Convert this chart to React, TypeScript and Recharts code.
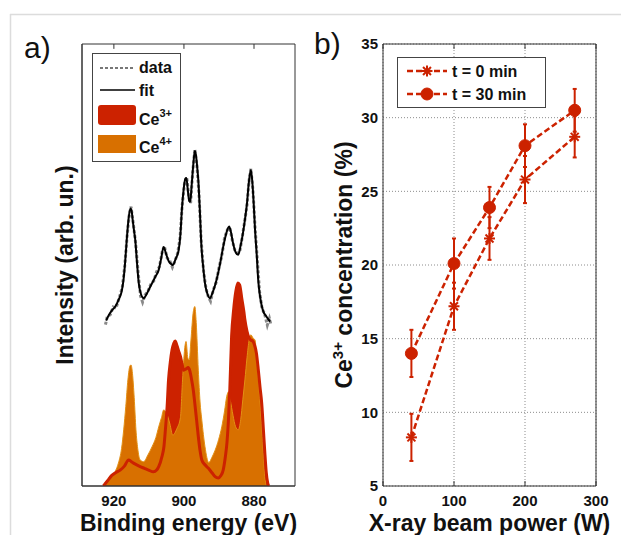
import React from "react"
import { ComposedChart, Area, Line, XAxis, YAxis, CartesianGrid, ErrorBar, Legend, Label, ReferenceArea, ReferenceLine } from "recharts"

const FONT = "'Liberation Sans', Arial, Helvetica, sans-serif"
const RED = "#CC2200"
const ORANGE = "#D87000"
const INK = "#111"
const FRAME = "#333"

// panel a: Ce 3d spectrum, [binding energy (eV), intensity (arb. un.)]
const fitPts = [
  [922.2, 37.4], [921.5, 38.6], [920.5, 39.8], [919.6, 40.6], [918.6, 42.2], [917.7, 44.3], [917.2, 47],
  [916.8, 50.5], [916.3, 56], [915.8, 60.5], [915.3, 62.8], [915.0, 62.5], [914.6, 60], [914.2, 57.5],
  [913.9, 55.7], [913.4, 50.5], [912.9, 45.9], [912.3, 43.5], [911.5, 42.5], [910.6, 43.5], [909.8, 44.8],
  [909.1, 45.9], [908.2, 47.3], [907.2, 48.9], [906.5, 51.5], [905.8, 54.1], [905.1, 52.5], [904.3, 50.8],
  [903.6, 50.2], [903.2, 50], [902.3, 51.5], [901.5, 53.4], [901.0, 57], [900.6, 62.4], [900.1, 67],
  [899.6, 69.5], [899.3, 69.7], [898.9, 67], [898.5, 64.5], [898.2, 64.3], [897.8, 68], [897.3, 73],
  [896.9, 75.8], [896.6, 75], [896.2, 72], [895.9, 69.2], [895.5, 63], [895.0, 54.1], [894.5, 49.5],
  [894.0, 45.9], [893.3, 43.5], [892.6, 42.5], [891.8, 43.8], [890.7, 46.6], [889.8, 49.8], [888.8, 54.1],
  [887.9, 57.2], [887.1, 58.7], [886.6, 57.5], [886.0, 55], [885.3, 53], [884.5, 52.3], [883.8, 54.5],
  [883.2, 57], [882.6, 60.2], [882.0, 64], [881.5, 68.5], [880.9, 71.5], [880.5, 69], [880.1, 64],
  [879.7, 57.9], [879.2, 52], [878.8, 46.6], [878.3, 43], [877.8, 40.8], [877.3, 39.4], [876.6, 38.5],
  [876.0, 37.8], [875.4, 37.2],
]

const dataPts = [
  [922.4, 36.5], [921.9, 38.3], [921.0, 38.8], [920.2, 40.5], [919.4, 40.2], [918.4, 42.8], [917.6, 44.9],
  [916.9, 49.8], [916.2, 56.8], [915.6, 61.5], [915.1, 63.2], [914.5, 59.6], [913.8, 55.0], [913.1, 48.5],
  [912.4, 43.0], [911.8, 41.6], [911.1, 43.2], [910.3, 44.0], [909.4, 45.8], [908.6, 46.4], [907.8, 48.5],
  [907.0, 49.6], [906.2, 53.0], [905.6, 54.3], [904.8, 51.6], [904.0, 50.9], [903.3, 49.5], [902.5, 51.0],
  [901.8, 52.7], [901.1, 56.2], [900.5, 63.5], [899.8, 68.7], [899.2, 69.9], [898.6, 65.4], [898.1, 64.0],
  [897.5, 71.0], [896.9, 76.2], [896.3, 72.6], [895.7, 66.0], [895.1, 55.7], [894.4, 48.6], [893.7, 44.6],
  [893.0, 42.7], [892.4, 41.8], [891.6, 44.4], [890.8, 46.1], [890.0, 49.4], [889.2, 52.0], [888.4, 56.2],
  [887.6, 58.0], [886.9, 58.4], [886.2, 55.6], [885.5, 53.4], [884.8, 52.7], [884.1, 52.9], [883.4, 56.1],
  [882.7, 59.7], [882.0, 63.5], [881.4, 69.2], [880.9, 71.8], [880.3, 66.9], [879.7, 58.5], [879.0, 50.5],
  [878.4, 43.9], [877.7, 40.1], [877.0, 39.0], [876.2, 36.4], [875.6, 37.9], [875.2, 36.6],
]

const ce3Pts = [
  [923, 0], [922.5, 0.5], [921.5, 1.5], [920.6, 2.4], [919.5, 3], [918.2, 3.6], [917, 4.5], [915.8, 5.9],
  [915, 5.5], [914, 5], [912.5, 4.4], [911.3, 4], [910.1, 3.6], [908.7, 3.2], [907.8, 3.6], [907.2, 4.4],
  [906.3, 6.6], [905.7, 9], [905.3, 12.7], [904.8, 18], [904.4, 24], [903.9, 28], [903.4, 30.8], [902.9, 32.3],
  [902.5, 32.8], [902, 31.8], [901.5, 30.5], [901, 29.3], [900.5, 27.5], [900.1, 26.2], [899.4, 26.5],
  [898.8, 26.8], [898.3, 26], [897.8, 24], [897.3, 21.5], [896.9, 18.7], [896.4, 15], [895.9, 11.2],
  [895.4, 8], [894.9, 5.9], [894, 4.8], [893, 4], [892, 3], [891.1, 2.1], [890.2, 1.8], [889.5, 2.3],
  [888.8, 3.6], [888.2, 6.5], [887.7, 10], [887.3, 14.9], [886.9, 22], [886.4, 33.8], [885.8, 40],
  [885.2, 44], [884.6, 45.9], [884.1, 45.5], [883.5, 42.5], [882.9, 39.5], [882.6, 37.6], [882, 35],
  [881.4, 33.5], [880.9, 33], [880.4, 32.8], [879.9, 32], [879.3, 30], [878.8, 26.5], [878.3, 22.5],
  [877.8, 18.7], [877.3, 12.5], [876.9, 7.4], [876.5, 3], [876.1, 0.7], [875.8, 0],
]

const ce4Pts = [
  [923, 0], [922.5, 0.5], [921.5, 1.5], [920.6, 2.1], [919.5, 3.5], [918.7, 5.2], [917.8, 8.5], [917.2, 12.7],
  [916.6, 18], [916.0, 24], [915.4, 27.2], [915.1, 27.4], [914.7, 25.5], [914.2, 20], [913.7, 12.7],
  [913.2, 8.5], [912.5, 5.9], [911.5, 5.5], [910.3, 7], [909.1, 8.9], [908.0, 11], [907.2, 13.4],
  [906.4, 15.5], [905.8, 17.2], [905.0, 16.5], [904.0, 14], [903.2, 11.5], [902.0, 13], [901.0, 15.5],
  [900.4, 24], [899.8, 31], [899.4, 32.7], [898.9, 29], [898.5, 28.5], [898.0, 33], [897.4, 39],
  [896.9, 40.6], [896.5, 37], [895.9, 26.2], [895.4, 19], [894.9, 14.9], [894.0, 8.9], [892.9, 5.3],
  [892.0, 6.5], [891.1, 8.1], [890.1, 10.5], [889.2, 13.4], [888.4, 17], [887.8, 20.2], [887.3, 21.3],
  [886.8, 19.5], [886.0, 16], [885.3, 13.5], [884.5, 12.7], [883.8, 15], [883.2, 19.5], [882.6, 24],
  [882.0, 29], [881.4, 33], [880.9, 34.2], [880.3, 33.5], [879.7, 33], [879.2, 28.5], [878.6, 22.5],
  [877.6, 11.2], [876.9, 2.1], [876.5, 0],
]

const energyDomain = [868.3, 929.1]
const intensityDomain = [0, 100]
const energyTicks = [920, 900, 880]

// panel b: Ce3+ fraction vs X-ray power
const powerW = [40, 100, 150, 200, 270]
const ce3At0 = [8.3, 17.2, 21.8, 25.8, 28.7]
const err0 = [1.6, 1.6, 1.45, 1.6, 1.4]
const ce3At30 = [14.0, 20.1, 23.9, 28.1, 30.5]
const err30 = [1.6, 1.7, 1.4, 1.45, 1.45]
const powerTicks = [0, 100, 200, 300]
const concTicks = [5, 10, 15, 20, 25, 30, 35]

const toRows = (pts: number[][]) => pts.map(([e, v]) => ({ e, v }))
const fitRows = toRows(fitPts)
const dataRows = toRows(dataPts)
const ce3Rows = toRows(ce3Pts)
const ce4Rows = toRows(ce4Pts)

const powerRows = powerW.map((p, i) => ({ p, t0: ce3At0[i], t0e: err0[i], t30: ce3At30[i], t30e: err30[i] }))

const tickFont = { fill: INK, fontSize: 15, fontWeight: 700, fontFamily: FONT }
const titleFont = { fill: INK, fontSize: 23, fontWeight: 700, fontFamily: FONT }
const blank = () => <g />

const StarDot = (props: any) => {
  const { cx, cy, index } = props
  if (cx == null || cy == null) return <g key={`s${index}`} />
  const r = 5.5
  const d = r * 0.72
  return (
    <g key={`s${index}`} stroke={RED} strokeWidth={2}>
      <line x1={cx - r} y1={cy} x2={cx + r} y2={cy} />
      <line x1={cx} y1={cy - r} x2={cx} y2={cy + r} />
      <line x1={cx - d} y1={cy - d} x2={cx + d} y2={cy + d} />
      <line x1={cx - d} y1={cy + d} x2={cx + d} y2={cy - d} />
    </g>
  )
}

const CircleDot = (props: any) => {
  const { cx, cy, index } = props
  if (cx == null || cy == null) return <g key={`c${index}`} />
  return <circle key={`c${index}`} cx={cx} cy={cy} r={6} fill={RED} stroke={RED} strokeWidth={1} />
}

const xTitle = (text: string) => (props: any) => {
  const vb = props.viewBox || {}
  return (
    <text x={vb.x + vb.width / 2} y={vb.y + 45} textAnchor="middle" style={titleFont}>
      {text}
    </text>
  )
}

const intensityTitle = (props: any) => {
  const vb = props.viewBox || {}
  const x = vb.x - 9
  const y = vb.y + vb.height / 2
  return (
    <text x={x} y={y} transform={`rotate(-90, ${x}, ${y})`} textAnchor="middle" style={titleFont}>
      Intensity (arb. un.)
    </text>
  )
}

const concTitle = (props: any) => {
  const vb = props.viewBox || {}
  const x = vb.x + vb.width - 31
  const y = vb.y + vb.height / 2
  return (
    <text x={x} y={y} transform={`rotate(-90, ${x}, ${y})`} textAnchor="middle" style={titleFont}>
      Ce
      <tspan dy={-9} fontSize={15}>3+</tspan>
      <tspan dy={9}> concentration (%)</tspan>
    </text>
  )
}

const keyText = { fontFamily: FONT, fontSize: 16, fontWeight: 700, fill: INK }
const keyBox = { boxSizing: "border-box" as const, border: "1px solid #444", background: "#fff" }

const SpectrumKey = () => (
  <div style={{ ...keyBox, width: 89, height: 109 }}>
    <svg width={87} height={107} style={{ display: "block" }}>
      <line x1={7} y1={14} x2={42} y2={14} stroke="#777" strokeWidth={2} strokeDasharray="3 2" />
      <text x={46} y={19} style={keyText}>data</text>
      <line x1={7} y1={36} x2={42} y2={36} stroke="#000" strokeWidth={1.5} />
      <text x={46} y={42} style={keyText}>fit</text>
      <rect x={5} y={51} width={38} height={20} rx={3} fill={RED} />
      <text x={46} y={71} style={keyText}>
        Ce<tspan dy={-8} fontSize={11}>3+</tspan>
      </text>
      <rect x={5} y={81} width={38} height={18} fill={ORANGE} />
      <text x={46} y={99} style={keyText}>
        Ce<tspan dy={-8} fontSize={11}>4+</tspan>
      </text>
    </svg>
  </div>
)

const PowerKey = () => (
  <div style={{ ...keyBox, width: 149, height: 51 }}>
    <svg width={147} height={49} style={{ display: "block" }}>
      <line x1={9} y1={13} x2={49} y2={13} stroke={RED} strokeWidth={2.5} strokeDasharray="6 3" />
      <StarDot cx={29} cy={13} index={0} />
      <text x={54} y={19} style={keyText}>t = 0 min</text>
      <line x1={9} y1={36} x2={49} y2={36} stroke={RED} strokeWidth={2.5} strokeDasharray="6 3" />
      <CircleDot cx={29} cy={36} index={0} />
      <text x={54} y={42} style={keyText}>t = 30 min</text>
    </svg>
  </div>
)

function SpectrumPanel() {
  return (
    <ComposedChart width={310} height={535} data={fitRows} margin={{ top: 44, right: 15, bottom: 19, left: 82 }}>
      <XAxis
        dataKey="e"
        type="number"
        domain={energyDomain}
        allowDataOverflow
        reversed
        ticks={energyTicks}
        height={30}
        tickLine={false}
        tickSize={0}
        tickMargin={9}
        axisLine={{ stroke: FRAME }}
        tick={tickFont}
      >
        <Label content={xTitle("Binding energy (eV)")} />
      </XAxis>
      <YAxis mirror type="number" domain={intensityDomain} allowDataOverflow tick={false} tickLine={false} axisLine={{ stroke: FRAME }}>
        <Label content={intensityTitle} />
      </YAxis>
      <Area data={ce3Rows} dataKey="v" type="monotone" fill={RED} fillOpacity={1} stroke="none" isAnimationActive={false} />
      <Area data={ce4Rows} dataKey="v" type="monotone" fill={ORANGE} fillOpacity={1} stroke="#E39015" strokeWidth={1} isAnimationActive={false} />
      <Line data={ce3Rows} dataKey="v" type="monotone" stroke={RED} strokeWidth={3} dot={false} isAnimationActive={false} />
      <Line data={dataRows} dataKey="v" type="linear" stroke="#8a8a8a" strokeWidth={3} strokeDasharray="3 2" dot={false} isAnimationActive={false} />
      <Line dataKey="v" type="monotone" stroke="#000" strokeWidth={2} dot={false} isAnimationActive={false} />
      <ReferenceArea
        x1={energyDomain[1]}
        x2={energyDomain[0]}
        y1={intensityDomain[0]}
        y2={intensityDomain[1]}
        fill="none"
        fillOpacity={0}
        stroke={FRAME}
        strokeWidth={1}
        ifOverflow="visible"
      />
      {energyTicks.map((t) => (
        <ReferenceLine
          key={t}
          segment={[{ x: t, y: 100 }, { x: t, y: 98.9 }]}
          stroke={FRAME}
          strokeWidth={1}
          ifOverflow="visible"
        />
      ))}
      <Legend
        layout="horizontal"
        verticalAlign="middle"
        align="center"
        content={() => <SpectrumKey />}
        wrapperStyle={{ left: 92, top: 53, width: 89, height: 109 }}
      />
    </ComposedChart>
  )
}

function PowerPanel() {
  return (
    <ComposedChart width={311} height={535} data={powerRows} margin={{ top: 44, right: 25, bottom: 19, left: 33 }}>
      <CartesianGrid stroke="#8c8c8c" strokeDasharray="1 2" />
      <XAxis
        dataKey="p"
        type="number"
        domain={[0, 300]}
        ticks={powerTicks}
        height={30}
        tickLine={false}
        tickSize={0}
        tickMargin={9}
        axisLine={{ stroke: FRAME }}
        tick={tickFont}
      >
        <Label content={xTitle("X-ray beam power (W)")} />
      </XAxis>
      <XAxis xAxisId="in" mirror dataKey="p" type="number" domain={[0, 300]} ticks={powerTicks} tickSize={5} tickLine={{ stroke: FRAME }} axisLine={false} tick={blank} />
      <XAxis xAxisId="top" orientation="top" mirror dataKey="p" type="number" domain={[0, 300]} ticks={powerTicks} tickSize={5} tickLine={{ stroke: FRAME }} axisLine={{ stroke: FRAME }} tick={blank} />
      <YAxis
        type="number"
        domain={[5, 35]}
        ticks={concTicks}
        width={40}
        tickLine={false}
        tickSize={0}
        tickMargin={5}
        axisLine={{ stroke: FRAME }}
        tick={tickFont}
      >
        <Label content={concTitle} />
      </YAxis>
      <YAxis yAxisId="in" mirror type="number" domain={[5, 35]} ticks={concTicks} tickSize={5} tickLine={{ stroke: FRAME }} axisLine={false} tick={blank} />
      <YAxis yAxisId="r" orientation="right" mirror type="number" domain={[5, 35]} ticks={concTicks} tickSize={5} tickLine={{ stroke: FRAME }} axisLine={{ stroke: FRAME }} tick={blank} />
      <Line dataKey="t0" type="linear" stroke={RED} strokeWidth={2.5} strokeDasharray="6 3" dot={StarDot} isAnimationActive={false}>
        <ErrorBar dataKey="t0e" direction="y" width={2} stroke={RED} strokeWidth={2} />
      </Line>
      <Line dataKey="t30" type="linear" stroke={RED} strokeWidth={2.5} strokeDasharray="6 3" dot={CircleDot} isAnimationActive={false}>
        <ErrorBar dataKey="t30e" direction="y" width={2} stroke={RED} strokeWidth={2} />
      </Line>
      <Legend
        layout="horizontal"
        verticalAlign="middle"
        align="center"
        content={() => <PowerKey />}
        wrapperStyle={{ left: 87, top: 57, width: 149, height: 51 }}
      />
    </ComposedChart>
  )
}

export default function App() {
  return (
    <div style={{ position: "absolute", left: 0, top: 0, width: 621, height: 535, background: "#fff", overflow: "hidden", fontFamily: FONT }}>
      <svg width={621} height={535} style={{ position: "absolute", left: 0, top: 0 }}>
        <line x1={10} y1={14.5} x2={621} y2={14.5} stroke="#dcdcdc" strokeWidth={1.5} />
        <line x1={10.5} y1={14} x2={10.5} y2={535} stroke="#dcdcdc" strokeWidth={1.5} />
        <text x={24} y={58} style={{ fontFamily: FONT, fontSize: 30, fill: INK }}>a)</text>
        <text x={314} y={54} style={{ fontFamily: FONT, fontSize: 30, fill: INK }}>b)</text>
      </svg>
      <div style={{ position: "absolute", left: 0, top: 0 }}>
        <SpectrumPanel />
      </div>
      <div style={{ position: "absolute", left: 310, top: 0 }}>
        <PowerPanel />
      </div>
    </div>
  )
}
